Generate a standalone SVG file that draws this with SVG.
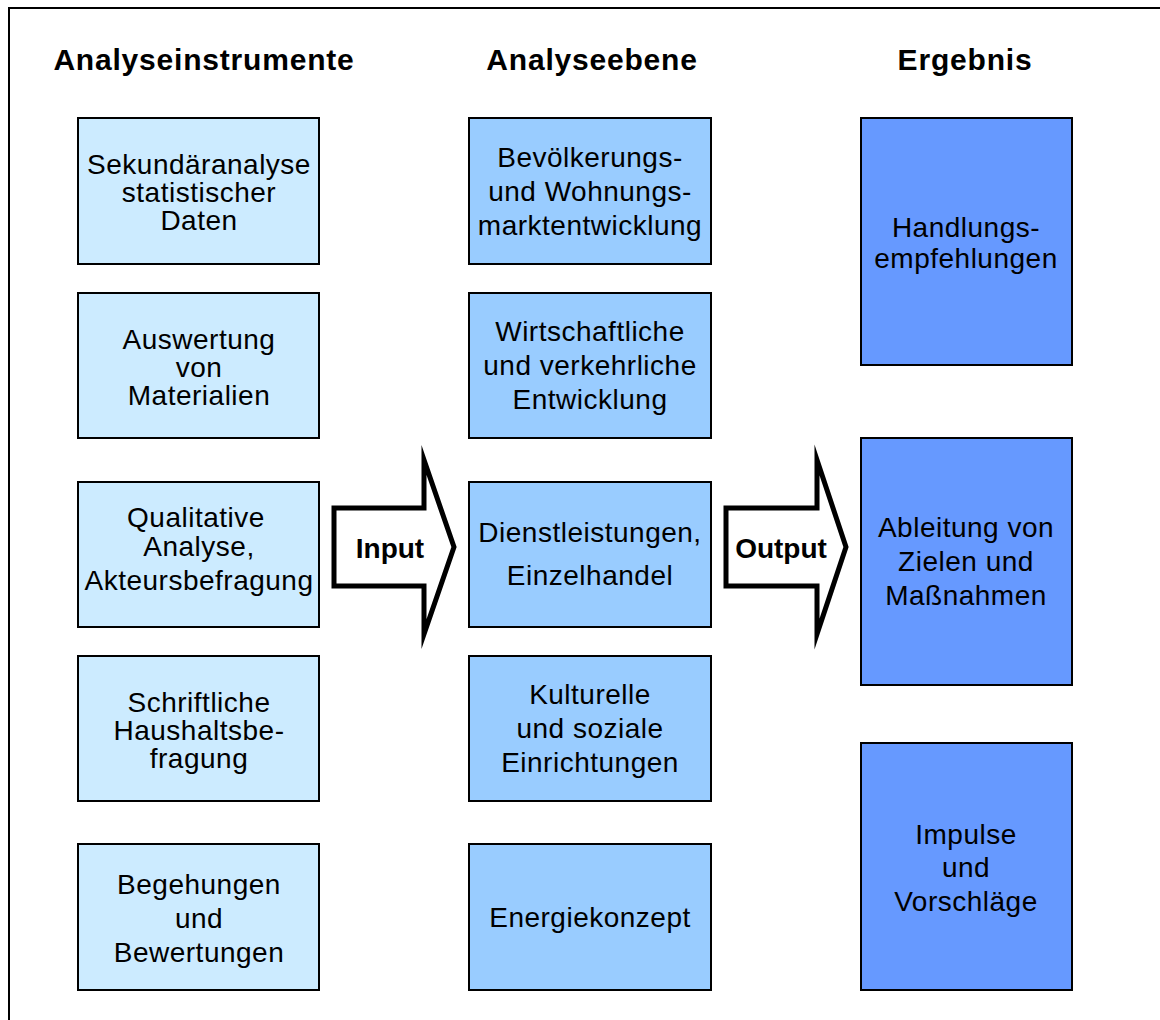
<svg xmlns="http://www.w3.org/2000/svg" width="1160" height="1020" viewBox="0 0 1160 1020">
<style>
.frame{fill:none;stroke:#000;stroke-width:2}
.box{stroke:#000;stroke-width:2}
.c1{fill:#CCEBFF}
.c2{fill:#99CCFF}
.c3{fill:#6699FF}
.hd{font-family:"Liberation Sans",Arial,sans-serif;font-weight:bold;font-size:30px;letter-spacing:0.8px;text-anchor:middle;fill:#000}
.t{font-family:"Liberation Sans",Arial,sans-serif;font-size:28px;letter-spacing:0.5px;text-anchor:middle;fill:#000}
.arr{fill:#fff;stroke:#000;stroke-width:5;stroke-linejoin:miter;stroke-miterlimit:10}
.al{font-family:"Liberation Sans",Arial,sans-serif;font-weight:bold;font-size:28px;text-anchor:middle;fill:#000}
</style>
<rect width="1160" height="1020" fill="#fff"/>
<path class="frame" d="M9,1021 V8 H1161"/>
<g id="headers">
<text class="hd" x="204" y="70">Analyseinstrumente</text>
<text class="hd" x="592" y="70">Analyseebene</text>
<text class="hd" x="965" y="70">Ergebnis</text>
</g>
<g id="connectors">
<g id="input-arrow">
<polygon class="arr" points="334,508 424,508 424,460 454,547 424,634 424,586 334,586"/>
<text class="al" x="390" y="558">Input</text>
</g>
<g id="output-arrow">
<polygon class="arr" points="726,508 817,508 817,460 846,547 817,634 817,586 726,586"/>
<text class="al" x="781" y="558">Output</text>
</g>
</g>
<g id="n1"><rect class="box c1" x="78" y="118" width="241" height="146"/>
<text class="t" x="199" y="174">Sekundäranalyse</text><text class="t" x="199" y="202">statistischer</text><text class="t" x="199" y="230">Daten</text></g>
<g id="n2"><rect class="box c1" x="78" y="293" width="241" height="145"/>
<text class="t" x="199" y="349">Auswertung</text><text class="t" x="199" y="377">von</text><text class="t" x="199" y="405">Materialien</text></g>
<g id="n3"><rect class="box c1" x="78" y="482" width="241" height="145"/>
<text class="t" x="196" y="527">Qualitative</text><text class="t" x="199" y="556">Analyse,</text><text class="t" x="199" y="590">Akteursbefragung</text></g>
<g id="n4"><rect class="box c1" x="78" y="656" width="241" height="145"/>
<text class="t" x="199" y="712">Schriftliche</text><text class="t" x="199" y="740">Haushaltsbe-</text><text class="t" x="199" y="768">fragung</text></g>
<g id="n5"><rect class="box c1" x="78" y="844" width="241" height="146"/>
<text class="t" x="199" y="894">Begehungen</text><text class="t" x="199" y="928">und</text><text class="t" x="199" y="962">Bewertungen</text></g>

<g id="n6"><rect class="box c2" x="469" y="118" width="242" height="146"/>
<text class="t" x="590" y="167">Bevölkerungs-</text><text class="t" x="590" y="201">und Wohnungs-</text><text class="t" x="590" y="235">marktentwicklung</text></g>
<g id="n7"><rect class="box c2" x="469" y="293" width="242" height="145"/>
<text class="t" x="590" y="341">Wirtschaftliche</text><text class="t" x="590" y="375">und verkehrliche</text><text class="t" x="590" y="409">Entwicklung</text></g>
<g id="n8"><rect class="box c2" x="469" y="482" width="242" height="145"/>
<text class="t" x="590" y="542">Dienstleistungen,</text><text class="t" x="590" y="585">Einzelhandel</text></g>
<g id="n9"><rect class="box c2" x="469" y="656" width="242" height="145"/>
<text class="t" x="590" y="704">Kulturelle</text><text class="t" x="590" y="738">und soziale</text><text class="t" x="590" y="772">Einrichtungen</text></g>
<g id="n10"><rect class="box c2" x="469" y="844" width="242" height="146"/>
<text class="t" x="590" y="927">Energiekonzept</text></g>

<g id="n11"><rect class="box c3" x="861" y="118" width="211" height="247"/>
<text class="t" x="966" y="237">Handlungs-</text><text class="t" x="966" y="268">empfehlungen</text></g>
<g id="n12"><rect class="box c3" x="861" y="438" width="211" height="247"/>
<text class="t" x="966" y="537">Ableitung von</text><text class="t" x="966" y="571">Zielen und</text><text class="t" x="966" y="605">Maßnahmen</text></g>
<g id="n13"><rect class="box c3" x="861" y="743" width="211" height="247"/>
<text class="t" x="966" y="844">Impulse</text><text class="t" x="966" y="877">und</text><text class="t" x="966" y="911">Vorschläge</text></g>
</svg>
